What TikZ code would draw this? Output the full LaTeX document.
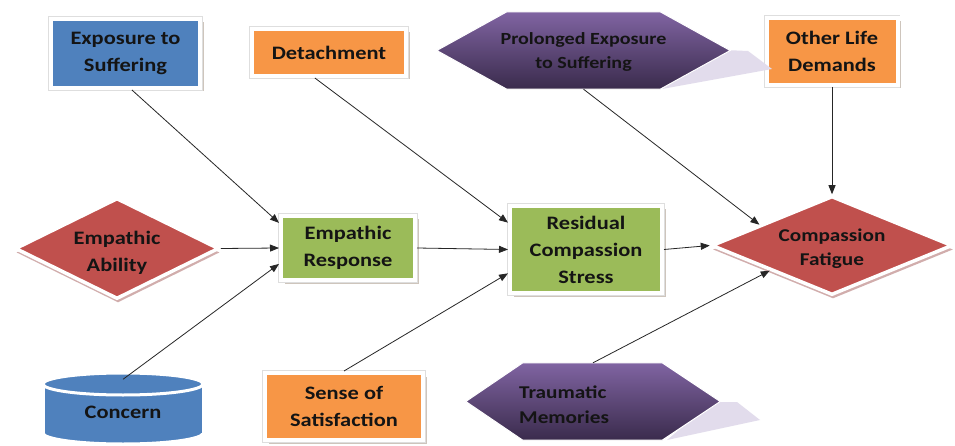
\documentclass[tikz,border=0pt]{standalone}
\usepackage{fontspec}
\setmainfont{Carlito}[FakeStretch=1.18]
\usetikzlibrary{arrows.meta,shapes.geometric,shadows,calc}
\definecolor{cblue}{HTML}{4F81BD}
\definecolor{corange}{HTML}{F79646}
\definecolor{cgreen}{HTML}{9BBB59}
\definecolor{cred}{HTML}{C0504D}
\definecolor{cpurpT}{HTML}{8064A2}
\definecolor{cpurpB}{HTML}{3A2B4C}
\definecolor{clav}{HTML}{E2DCEC}
\definecolor{cshadow}{HTML}{C9BFB5}
\definecolor{credsh}{HTML}{CDA5A4}
\begin{document}
\begin{tikzpicture}[x=1pt,y=-1pt,
 lbl/.style={font=\fontsize{19}{27}\selectfont\bfseries, align=center, text=black!92},
 box/.style={lbl, rectangle, draw=white, line width=4pt, inner sep=0pt,
   drop shadow={shadow xshift=3.5pt, shadow yshift=-3.5pt, fill=cshadow, opacity=.9},
   preaction={draw=black!13, line width=5.2pt}},
 dia/.style={lbl, diamond, aspect=2.4, draw=white, line width=3.5pt, inner sep=0pt,
   drop shadow={shadow xshift=1pt, shadow yshift=-4pt, fill=credsh, opacity=.9}},
 frame/.style={rectangle, draw=none, inner sep=0pt},
 hexfill/.style={top color=cpurpT, bottom color=cpurpB, draw=white, line width=1pt},
 hexsh/.style={fill=clav},
 arr/.style={-{Triangle[length=9pt,width=7pt]}, line width=0.8pt, black!85},
]
\useasboundingbox (0,0) rectangle (955,446);
\fill[white] (0,0) rectangle (955,446);

% boxes
\node[box, fill=cblue, minimum width=149pt, minimum height=69pt] (exp) at (125.5,53.5) {Exposure to\\Suffering};
\node[box, fill=corange, minimum width=154pt, minimum height=47pt] (det) at (329,52.5) {Detachment};
\node[box, fill=corange, minimum width=131pt, minimum height=67pt] (old) at (832,51.5) {Other Life\\Demands};
\node[box, fill=cgreen, minimum width=134pt, minimum height=64pt] (er) at (348,248) {Empathic\\Response};
\node[box, fill=cgreen, minimum width=152pt, minimum height=87pt] (rcs) at (586,249.5) {Residual\\Compassion\\Stress};
\node[box, fill=corange, minimum width=158pt, minimum height=67pt] (sos) at (344,406.5) {Sense of\\Satisfaction};

% diamonds
\node[dia, fill=cred, minimum width=204pt, minimum height=101pt] (ea) at (117,248.5) {};
\node[lbl] (eatext) at (117,253) {Empathic\\Ability};
\node[dia, fill=cred, minimum width=241pt, minimum height=99pt] (cf) at (832,245.5) {};
\node[lbl, font=\fontsize{18}{24}\selectfont\bfseries] (cftext) at (832,249) {Compassion\\Fatigue};

% prolonged exposure hexagon
\fill[hexsh] (725,50) -- (748,51) -- (772,69) -- (662,89) -- cycle;
\node[frame, minimum width=293pt, minimum height=77pt] (pro) at (583.5,50.5) {};
\path[hexfill] (pro.west) -- ($(pro.north west)+(70,0)$) -- ($(pro.north east)+(-70,0)$) -- (pro.east) -- ($(pro.south east)+(-70,0)$) -- ($(pro.south west)+(70,0)$) -- cycle;
\node[lbl, font=\fontsize{17}{24}\selectfont\bfseries] (protext) at (583.5,52) {Prolonged Exposure\\to Suffering};

% traumatic memories hexagon
\fill[hexsh] (712,402) -- (737,402) -- (760,420) -- (667,440) -- cycle;
\node[frame, minimum width=254pt, minimum height=77pt] (tm) at (593,401.5) {};
\path[hexfill] (tm.west) -- ($(tm.north west)+(57,0)$) -- ($(tm.north east)+(-58,0)$) -- (tm.east) -- ($(tm.south east)+(-58,0)$) -- ($(tm.south west)+(57,0)$) -- cycle;
\node[lbl, font=\fontsize{18}{25}\selectfont\bfseries, align=left, anchor=west, inner sep=0pt] (tmtext) at (519,404.5) {Traumatic\\Memories};

% concern cylinder
\filldraw[fill=cblue, draw=white, line width=3pt] (123,433) ellipse [x radius=80, y radius=11];
\fill[cblue] (43,384) rectangle (203,433);
\draw[white, line width=3pt] (43,384) -- (43,433) (203,384) -- (203,433);
\filldraw[fill=cblue, draw=white, line width=3pt] (123,384) ellipse [x radius=80, y radius=11];
\node[lbl, frame, minimum width=160pt, minimum height=65pt] (con) at (123,412) {Concern};

% connectors
\draw[arr] (exp.-80) -- (er.160);
\draw[arr] (det.-119) -- (rcs.161);
\draw[arr] (ea.east) -- (er.west);
\draw[arr] (con.north) -- (er.-167);
\draw[arr] (er.east) -- (rcs.west);
\draw[arr] (sos.north) -- (rcs.-163);
\draw[arr] (rcs.east) -- (cf.west);
\draw[arr] (pro.south) -- (cf.164);
\draw[arr] (old.south) -- (cf.north);
\draw[arr] (tm.north) -- (cf.-158);
\end{tikzpicture}
\end{document}
